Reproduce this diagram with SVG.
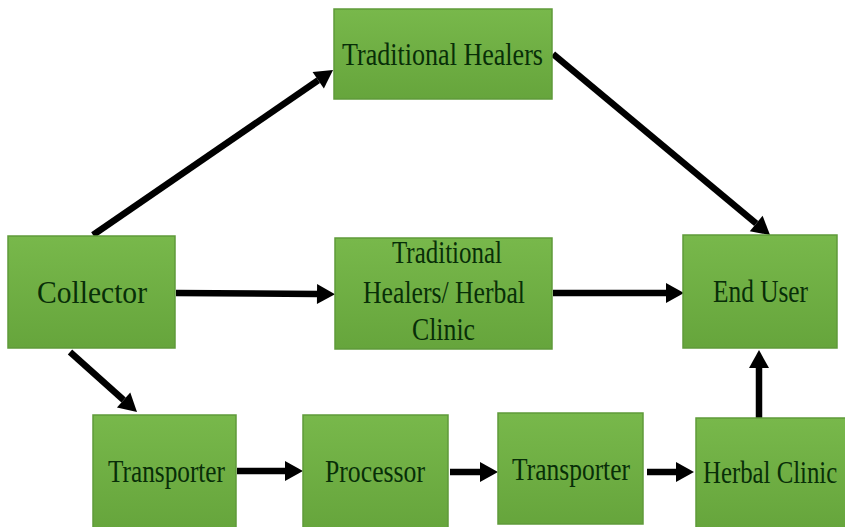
<svg xmlns="http://www.w3.org/2000/svg" width="845" height="527" viewBox="0 0 845 527">
<defs>
<linearGradient id="g" x1="0" y1="0" x2="0" y2="1">
<stop offset="0" stop-color="#78b84b"/>
<stop offset="1" stop-color="#66a53c"/>
</linearGradient>
<marker id="ah" markerUnits="userSpaceOnUse" markerWidth="22" markerHeight="22" refX="0" refY="10" orient="auto" overflow="visible">
<path d="M0,0 L18,10 L0,20 z" fill="#000"/>
</marker>
<style>
.box{fill:url(#g);stroke:#5f9a3a;stroke-width:1.5}
.t{font-family:"Liberation Serif","Times New Roman",serif;font-size:31px;fill:#082e08}
.c{stroke:#000;stroke-width:6.5;fill:none;marker-end:url(#ah)}
</style>
</defs>
<rect width="845" height="527" fill="#fff"/>
<g id="connectors">
<line class="c" x1="93" y1="235" x2="318.2" y2="80.2"/>
<line class="c" x1="553" y1="54" x2="756.2" y2="223.5"/>
<line class="c" x1="176" y1="293" x2="317" y2="294"/>
<line class="c" x1="553" y1="293" x2="666" y2="293"/>
<line class="c" x1="70" y1="352" x2="123.6" y2="400"/>
<line class="c" x1="759" y1="425" x2="759" y2="368"/>
<line class="c" x1="237" y1="471" x2="285" y2="471"/>
<line class="c" x1="450" y1="472" x2="480" y2="472"/>
<line class="c" x1="647" y1="472" x2="676" y2="472"/>
</g>
<g id="traditional-healers">
<rect class="box" x="334" y="9" width="218" height="90"/>
<text class="t" x="342" y="65" textLength="201" lengthAdjust="spacingAndGlyphs">Traditional Healers</text>
</g>
<g id="collector">
<rect class="box" x="8" y="236" width="167" height="112"/>
<text class="t" x="37" y="303" textLength="110" lengthAdjust="spacingAndGlyphs">Collector</text>
</g>
<g id="healers-herbal-clinic">
<rect class="box" x="335" y="238" width="217" height="111"/>
<text class="t" x="392" y="263" textLength="110" lengthAdjust="spacingAndGlyphs">Traditional</text>
<text class="t" x="363" y="303" textLength="162" lengthAdjust="spacingAndGlyphs">Healers/ Herbal</text>
<text class="t" x="412" y="340" textLength="63" lengthAdjust="spacingAndGlyphs">Clinic</text>
</g>
<g id="end-user">
<rect class="box" x="683" y="235" width="154" height="113"/>
<text class="t" x="713" y="302" textLength="95" lengthAdjust="spacingAndGlyphs">End User</text>
</g>
<g id="transporter-1">
<rect class="box" x="93" y="415" width="143" height="114"/>
<text class="t" x="108" y="482" textLength="117" lengthAdjust="spacingAndGlyphs">Transporter</text>
</g>
<g id="processor">
<rect class="box" x="303" y="415" width="145" height="114"/>
<text class="t" x="325" y="482" textLength="100" lengthAdjust="spacingAndGlyphs">Processor</text>
</g>
<g id="transporter-2">
<rect class="box" x="498" y="413" width="145" height="111"/>
<text class="t" x="512" y="480" textLength="118" lengthAdjust="spacingAndGlyphs">Transporter</text>
</g>
<g id="herbal-clinic">
<rect class="box" x="696" y="418" width="150" height="111"/>
<text class="t" transform="translate(703 483) scale(0.8 1)">Herbal Clinic</text>
</g>
</svg>
